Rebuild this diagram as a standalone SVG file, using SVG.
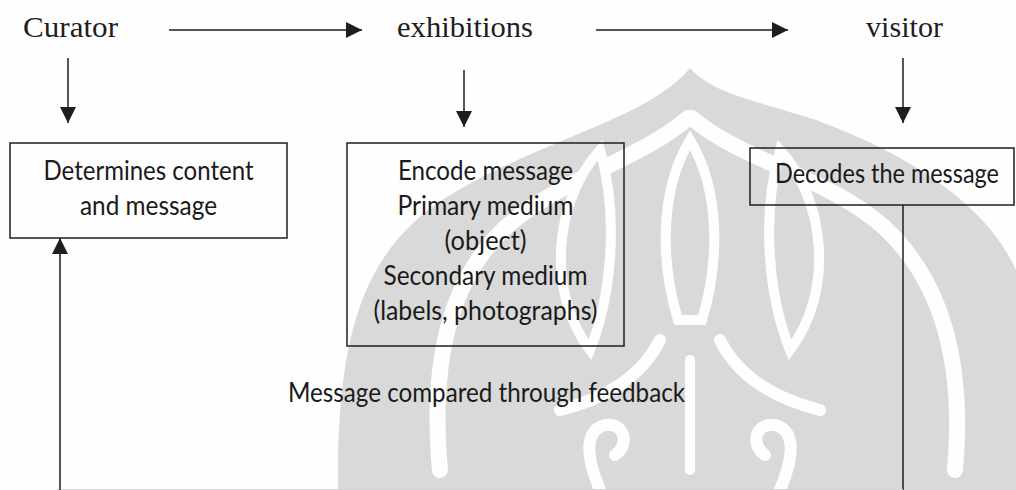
<svg xmlns="http://www.w3.org/2000/svg" width="1016" height="490" viewBox="0 0 1016 490">
  <style>
    .serif { font-family: "Liberation Serif", "Times New Roman", serif; font-size: 30px; fill: #1e1e1e; }
    .sans { font-family: Lato, "Noto Sans", sans-serif; font-size: 26px; fill: #1a1a1a; }
    .box { fill: none; stroke: #1e1e1e; stroke-width: 1.5; }
    .wire { fill: none; stroke: #1e1e1e; stroke-width: 1.5; }
    .mark { fill: #d9d9d9; }
    .gap { fill: none; stroke: #fefefe; stroke-linecap: round; }
  </style>
  <defs>
    <marker id="head" viewBox="0 0 16 16" markerWidth="16" markerHeight="16" markerUnits="userSpaceOnUse" refX="16" refY="8" orient="auto">
      <path d="M0,0 L16,8 L0,16 Z" fill="#1e1e1e"/>
    </marker>
  </defs>

  <rect width="1016" height="490" fill="#fefefe"/>

  <!-- background ornament -->
  <g id="watermark">
    <path class="mark" d="M690,68 C650,118 540,140 450,195 C370,245 336,320 338,490 L1016,490 L1016,270 C985,200 900,150 810,118 C745,98 712,92 690,68 Z"/>
    <!-- inner arch bands -->
    <path class="gap" stroke-width="16" d="M688,118 C640,160 560,178 505,228 C450,280 430,360 440,470"/>
    <path class="gap" stroke-width="16" d="M692,118 C740,160 830,178 885,228 C940,280 965,360 955,470"/>
    <!-- side petals -->
    <path class="mark" stroke="#fefefe" stroke-width="10" d="M600,150 C555,200 545,290 590,350 C610,300 620,220 600,150 Z"/>
    <path class="mark" stroke="#fefefe" stroke-width="10" d="M780,150 C825,200 835,290 790,350 C770,300 760,220 780,150 Z"/>
    <!-- centre flame -->
    <path class="mark" stroke="#fefefe" stroke-width="10" d="M690,140 C660,190 660,260 678,320 L702,320 C720,260 720,190 690,140 Z"/>
    <path class="gap" stroke-width="12" d="M660,340 C640,380 600,400 560,410 M720,340 C740,380 780,400 820,410"/>
    <!-- lower curls -->
    <path class="gap" stroke-width="12" d="M600,490 C585,455 585,430 605,425 C625,422 630,445 615,455"/>
    <path class="gap" stroke-width="12" d="M780,490 C795,455 795,430 775,425 C755,422 750,445 765,455"/>
    <path class="gap" stroke-width="10" d="M690,360 L690,470"/>
  </g>

  <!-- top row labels -->
  <g id="curator">
    <text class="serif" x="23" y="37" textLength="95" lengthAdjust="spacingAndGlyphs">Curator</text>
  </g>
  <g id="exhibitions">
    <text class="serif" x="397" y="37" textLength="136" lengthAdjust="spacingAndGlyphs">exhibitions</text>
  </g>
  <g id="visitor">
    <text class="serif" x="866" y="37" textLength="77" lengthAdjust="spacingAndGlyphs">visitor</text>
  </g>

  <!-- boxes -->
  <g id="determines">
    <rect class="box" x="10" y="143" width="277" height="95"/>
    <text class="sans" x="148.5" y="180" text-anchor="middle" textLength="210" lengthAdjust="spacingAndGlyphs">Determines content</text>
    <text class="sans" x="148.5" y="215" text-anchor="middle" textLength="137" lengthAdjust="spacingAndGlyphs">and message</text>
  </g>
  <g id="encode">
    <rect class="box" x="347" y="143" width="277" height="203"/>
    <text class="sans" x="485.5" y="180" text-anchor="middle" textLength="175" lengthAdjust="spacingAndGlyphs">Encode message</text>
    <text class="sans" x="485.5" y="215" text-anchor="middle" textLength="176" lengthAdjust="spacingAndGlyphs">Primary medium</text>
    <text class="sans" x="485.5" y="250" text-anchor="middle" textLength="82" lengthAdjust="spacingAndGlyphs">(object)</text>
    <text class="sans" x="485.5" y="285" text-anchor="middle" textLength="204" lengthAdjust="spacingAndGlyphs">Secondary medium</text>
    <text class="sans" x="485.5" y="320" text-anchor="middle" textLength="224" lengthAdjust="spacingAndGlyphs">(labels, photographs)</text>
  </g>
  <g id="decodes">
    <rect class="box" x="750" y="148" width="264" height="57"/>
    <text class="sans" x="887" y="183" text-anchor="middle" font-size="25" textLength="224" lengthAdjust="spacingAndGlyphs">Decodes the message</text>
  </g>
  <g id="feedback">
    <text class="sans" x="486.5" y="402" text-anchor="middle" textLength="397" lengthAdjust="spacingAndGlyphs">Message compared through feedback</text>
  </g>

  <!-- connectors -->
  <g id="connectors">
    <line class="wire" x1="169" y1="30" x2="362" y2="30" marker-end="url(#head)"/>
    <line class="wire" x1="596" y1="30" x2="788" y2="30" marker-end="url(#head)"/>
    <line class="wire" x1="68" y1="58" x2="68" y2="123" marker-end="url(#head)"/>
    <line class="wire" x1="464" y1="70" x2="464" y2="127" marker-end="url(#head)"/>
    <line class="wire" x1="903" y1="58" x2="903" y2="123" marker-end="url(#head)"/>
    <!-- feedback loop: down from the visitor box, along the bottom edge, up into the curator box -->
    <line class="wire" x1="903" y1="205" x2="903" y2="490"/>
    <line x1="57" y1="489.5" x2="903" y2="489.5" stroke="#d6d6d6" stroke-width="1"/>
    <line class="wire" x1="60" y1="490" x2="60" y2="238" marker-end="url(#head)"/>
  </g>
</svg>
